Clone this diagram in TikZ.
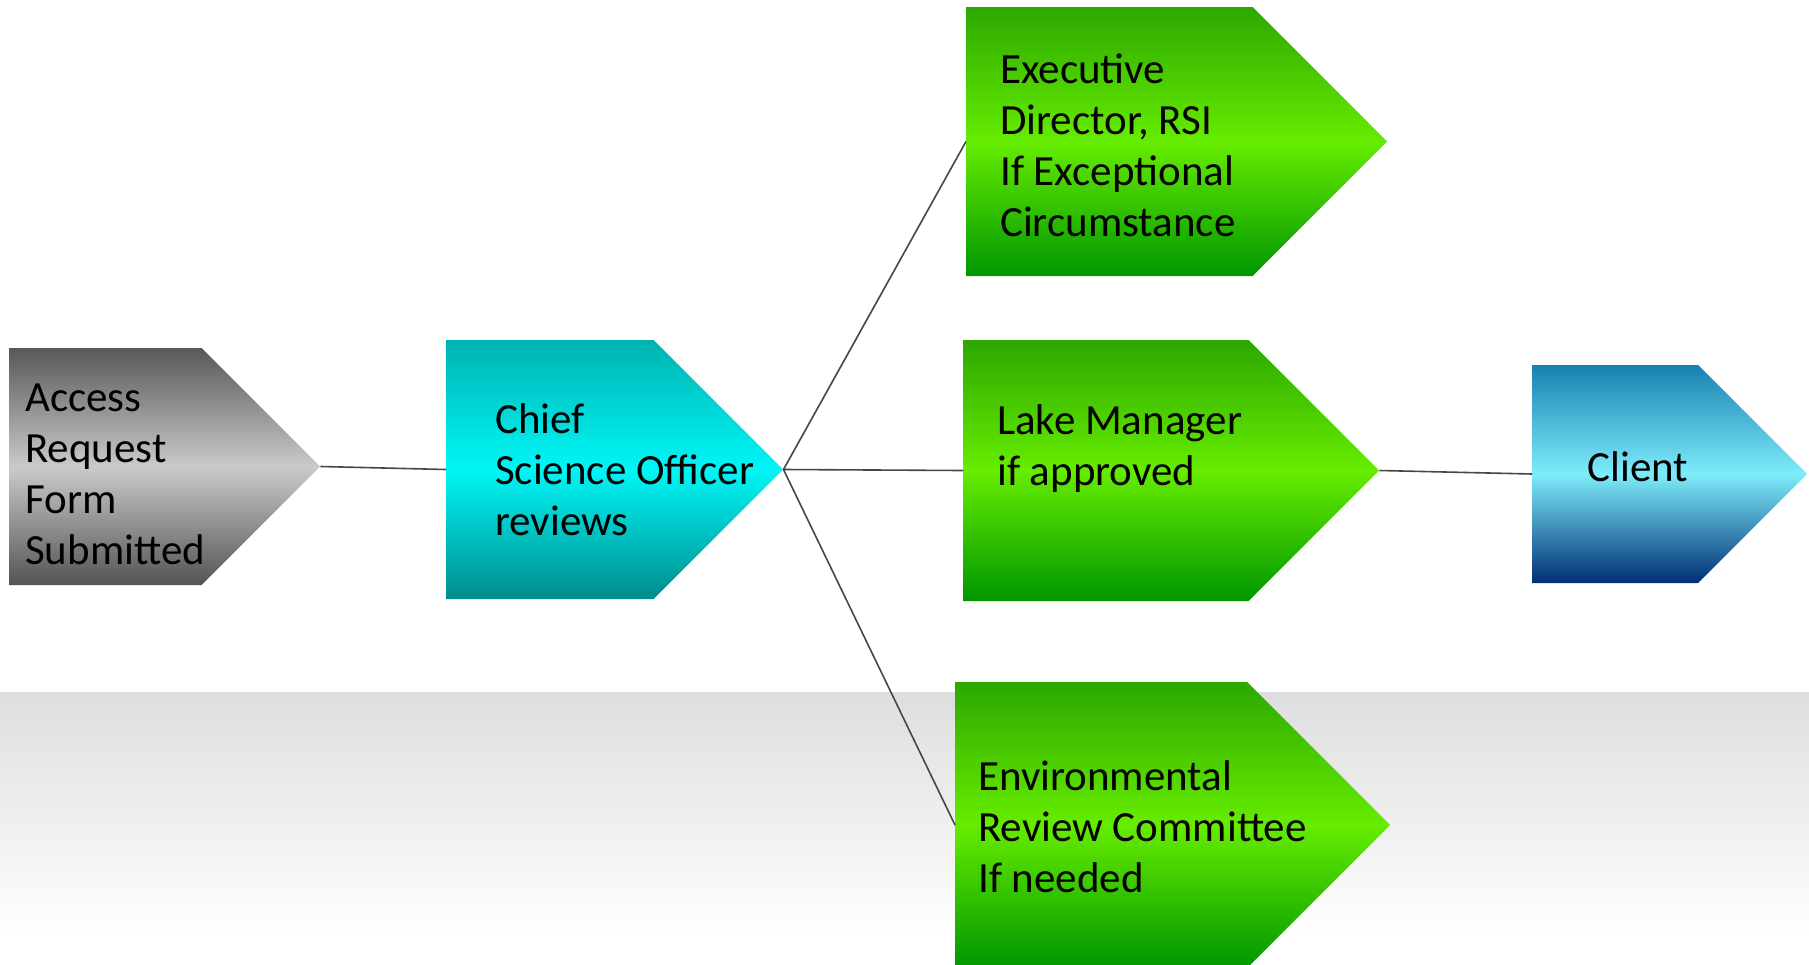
\documentclass[tikz,border=0pt]{standalone}
\usepackage{fontspec}
\setmainfont{Carlito}
\usepackage{tikz}
\usetikzlibrary{shapes.symbols}

\definecolor{grayTop}{RGB}{88,88,88}
\definecolor{grayMid}{RGB}{202,202,202}
\definecolor{grayBot}{RGB}{84,84,84}
\definecolor{cyanTop}{RGB}{0,178,178}
\definecolor{cyanMid}{RGB}{0,246,246}
\definecolor{cyanBot}{RGB}{0,140,140}
\definecolor{greenTop}{RGB}{44,168,0}
\definecolor{greenMid}{RGB}{102,236,0}
\definecolor{greenBot}{RGB}{0,150,0}
\definecolor{blueTop}{RGB}{24,128,178}
\definecolor{blueMid}{RGB}{126,236,250}
\definecolor{blueBot}{RGB}{0,46,116}
\definecolor{lineGray}{RGB}{70,70,70}
\definecolor{bandGray}{RGB}{222,222,222}

\begin{document}
\begin{tikzpicture}[
x=1pt, y=-1pt,
mysignal/.style={
  signal,
  signal to=east,
  signal pointer angle=90,
  inner sep=0pt,
  anchor=west,
  draw=none
  },
mygray/.style={mysignal, top color=grayTop, bottom color=grayBot, middle color=grayMid},
mycyan/.style={mysignal, top color=cyanTop, bottom color=cyanBot, middle color=cyanMid},
mygreen/.style={mysignal, top color=greenTop, bottom color=greenBot, middle color=greenMid},
myblue/.style={mysignal, top color=blueTop, bottom color=blueBot, middle color=blueMid},
mytext/.style={
  anchor=west,
  align=left,
  inner sep=0pt,
  font=\fontsize{43}{51}\selectfont
  },
myline/.style={draw=lineGray, line width=1.6pt}
]
\useasboundingbox (0,0) rectangle (1809,964);
\shade[top color=bandGray, bottom color=white] (0,692) rectangle (1809,940);

\node[mygray, minimum width=311pt, minimum height=237pt] (acc) at (9,466.5) {};
\node[mycyan, minimum width=337pt, minimum height=259pt] (cso) at (446,469.5) {};
\node[mygreen, minimum width=421pt, minimum height=269pt] (exec) at (966,141.5) {};
\node[mygreen, minimum width=416pt, minimum height=261pt] (lake) at (963,470.5) {};
\node[mygreen, minimum width=435pt, minimum height=286pt] (env) at (955,825) {};
\node[myblue, minimum width=275pt, minimum height=218pt] (client) at (1532,474) {};

\node[mytext] (accText) at (25,474.5) {Access\\Request\\Form\\Submitted};
\node[mytext] (csoText) at (495,470) {Chief\\Science Officer\\reviews};
\node[mytext] (execText) at (1000,145) {Executive\\Director, RSI\\If Exceptional\\Circumstance};
\node[mytext] (lakeText) at (997,448.5) {Lake Manager\\if approved};
\node[mytext] (envText) at (978,827) {Environmental\\Review Committee\\If needed};
\node[mytext, anchor=center] (clientText) at (1638,467) {Client};

\path[myline]
  (acc.east) -- (cso.west)
  (cso.east) -- (exec.west)
  (cso.east) -- (lake.west)
  (cso.east) -- (env.west)
  (lake.east) -- (client.west);
\end{tikzpicture}
\end{document}
